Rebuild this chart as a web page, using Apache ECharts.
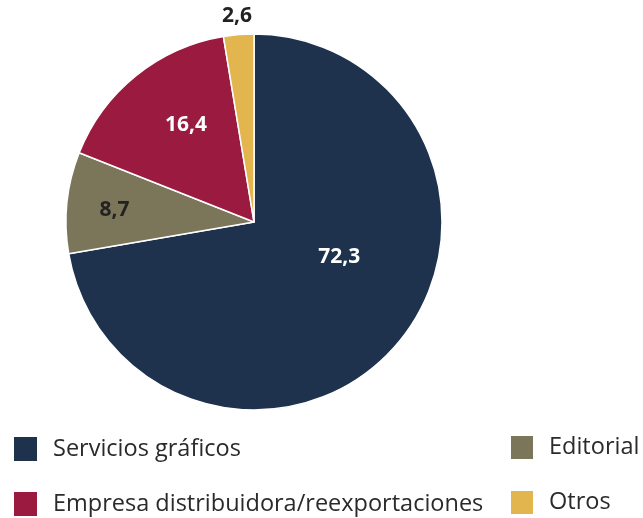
<!DOCTYPE html>
<html>
<head>
<meta charset="utf-8">
<script src="https://cdn.jsdelivr.net/npm/echarts@6/dist/echarts.min.js"></script>
<style>
  html, body { margin: 0; padding: 0; background: #fff; }
  #chart { width: 643px; height: 518px; }
</style>
</head>
<body>
<div id="chart"></div>
<script>
// sectores (%)
const categories = ['Servicios gráficos', 'Editorial', 'Empresa distribuidora/reexportaciones', 'Otros'];
const values = [72.3, 8.7, 16.4, 2.6];
const colors = ['#1e324e', '#7b765a', '#9a1a40', '#e3b54e'];
const labelColors = ['#ffffff', '#222222', '#ffffff', '#222222'];

// nudges for the labels, like the original layout
const labelShift = [[11, -28], [-43, -2], [-7, -21], [-9, -109]];

let myChart = echarts.init(document.getElementById('chart'));

let pieData = categories.map(function (name, i) {
    return {
        name: name,
        value: values[i],
        itemStyle: { color: colors[i] },
        label: { color: labelColors[i] }
    };
});

let legendText = { fontFamily: 'Open Sans', fontSize: 23.5, color: '#2a2a2a', padding: [10, 0, 0, 10] };

let option = {
    animation: false,
    legend: [
        {
            orient: 'vertical',
            left: 12, top: 435,
            padding: 0,
            itemWidth: 25, itemHeight: 26, itemGap: 27,
            icon: 'rect',
            textStyle: legendText,
            data: [categories[0], categories[2]]
        },
        {
            orient: 'vertical',
            left: 509, top: 434,
            padding: 0,
            itemWidth: 24, itemHeight: 25, itemGap: 28,
            icon: 'rect',
            textStyle: legendText,
            data: [categories[1], categories[3]]
        }
    ],
    series: [
        {
            type: 'pie',
            center: [254, 222],
            radius: 188,
            startAngle: 90,
            clockwise: true,
            silent: true,
            itemStyle: { borderColor: '#fff', borderWidth: 1.5 },
            label: {
                position: 'inside',
                fontFamily: 'Open Sans',
                fontWeight: 'bold',
                fontSize: 21,
                formatter: function (p) {
                    return String(p.value).replace('.', ',');
                }
            },
            labelLine: { show: false },
            labelLayout: function (params) {
                let s = labelShift[params.dataIndex];
                return { dx: s[0], dy: s[1] };
            },
            data: pieData
        }
    ]
};

myChart.setOption(option);
</script>
</body>
</html>
